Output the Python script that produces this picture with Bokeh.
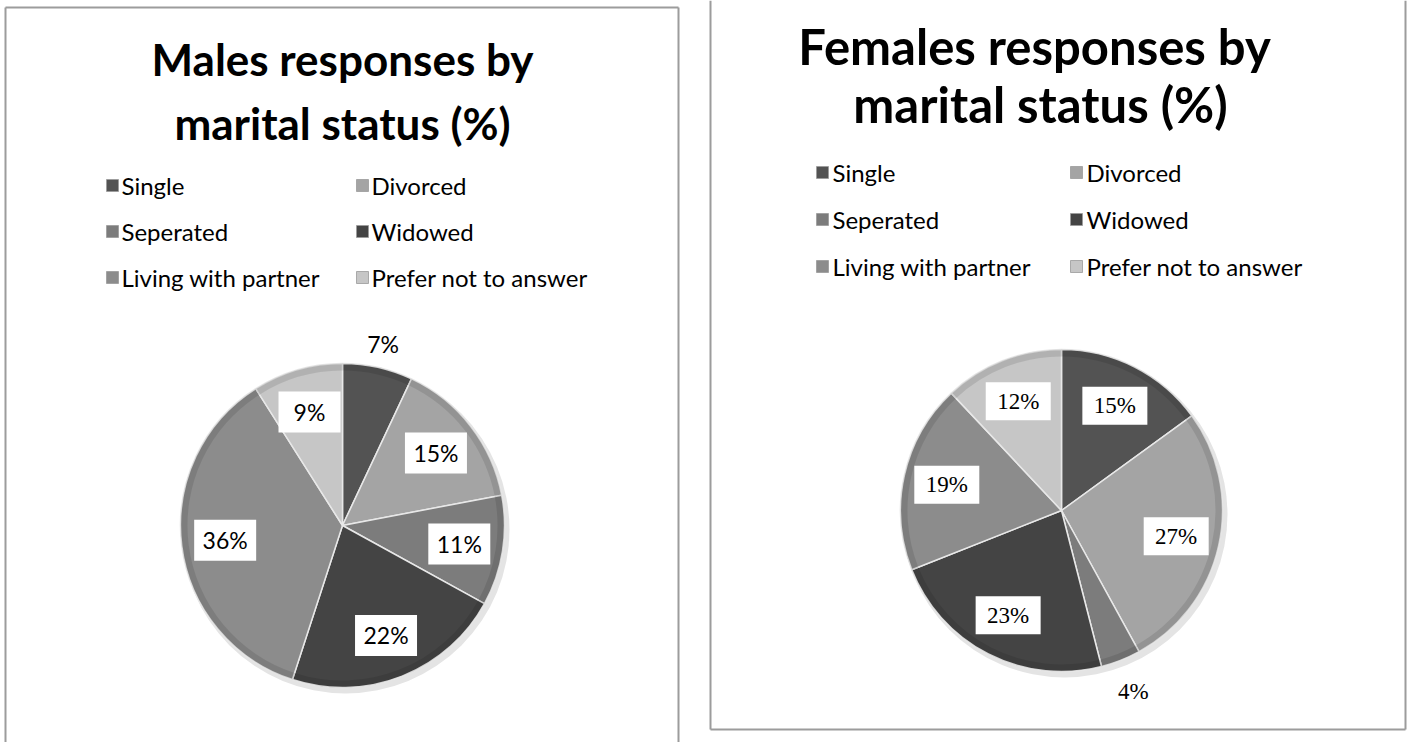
import math
from bokeh.plotting import figure
from bokeh.models import Range1d, ColumnDataSource
from bokeh.core.properties import value
from bokeh.embed import file_html
from bokeh.resources import INLINE

# ---------------- data ----------------
categories = ["Single", "Divorced", "Seperated", "Widowed",
              "Living with partner", "Prefer not to answer"]
male_pct = [7, 15, 11, 22, 36, 9]
female_pct = [15, 27, 4, 23, 19, 12]
male_title = ["Males responses by", "marital status (%)"]
female_title = ["Females  responses by", "marital status (%)"]

# ---------------- styles ----------------
colors = ["#535353", "#a4a4a4", "#7c7c7c", "#444444", "#8c8c8c", "#c6c6c6"]
W, H = 1409, 742


def X(px):
    return px


def Y(py):
    return H - py


p = figure(width=W, height=H, x_range=Range1d(0, W), y_range=Range1d(0, H),
           output_backend="svg", toolbar_location=None, min_border=0)
p.axis.visible = False
p.grid.visible = False
p.outline_line_color = None
p.background_fill_color = "white"
p.border_fill_color = "white"

# panel borders (decoration)
border_col = "#9c9c9c"
p.segment(x0=[X(5), X(5), X(678), X(710), X(710), X(1405)],
          y0=[Y(7), Y(7), Y(7), Y(0), Y(729), Y(0)],
          x1=[X(678), X(5), X(678), X(710), X(1405), X(1405)],
          y1=[Y(7), Y(742), Y(742), Y(729), Y(729), Y(729)],
          line_color=border_col, line_width=2)


def panel(vals, title, cx, cy, r, title_x, title_y, title_gap, title_size,
          leg_rows, leg_cols, leg_text_dx, label_font, label_in, label_out,
          box_w, box_h):
    # title
    p.text(x=[X(title_x)] * 2, y=[Y(title_y), Y(title_y + title_gap)], text=title,
           text_font=value("Lato"), text_font_style="bold",
           text_font_size=title_size,
           text_align="center", text_baseline="middle", text_color="black")
    # legend
    lx, ly, lt = [], [], []
    for i, c in enumerate(categories):
        row, col = i // 2, i % 2
        lx.append(leg_cols[col])
        ly.append(leg_rows[row])
        lt.append(c)
    p.rect(x=[X(v) for v in lx], y=[Y(v) for v in ly], width=12, height=12,
           fill_color=colors, line_color="#9a9a9a", line_width=0.8)
    p.text(x=[X(v + leg_text_dx) for v in lx], y=[Y(v) for v in ly], text=lt,
           text_font=value("Lato"), text_font_size="24px",
           text_align="left", text_baseline="middle", text_color="black")
    # pie
    total = float(sum(vals))
    starts, ends, mids = [], [], []
    acc = 0.0
    for v in vals:
        a0 = acc / total * 2 * math.pi
        acc += v
        a1 = acc / total * 2 * math.pi
        starts.append(math.pi / 2 - a1)
        ends.append(math.pi / 2 - a0)
        mids.append((a0 + a1) / 2)
    src = ColumnDataSource(dict(start=starts, end=ends, color=colors))
    # soft shadow
    p.circle(x=[X(cx + 3)], y=[Y(cy + 4)], radius=r + 2, fill_color="#e4e4e4",
             line_color=None)
    p.wedge(x=X(cx), y=Y(cy), radius=r, start_angle="start", end_angle="end",
            fill_color="color", line_color="#e8e8e8", line_width=1.5, source=src)
    # darker rim for bevel feel
    p.annular_wedge(x=X(cx), y=Y(cy), inner_radius=r - 7, outer_radius=r,
                    start_angle="start", end_angle="end", fill_color="black",
                    fill_alpha=0.10, line_color=None, source=src)
    # labels
    bx, by, tx, ty, tt = [], [], [], [], []
    for v, m in zip(vals, mids):
        inside = v >= 8
        rr = r * (label_in if inside else label_out)
        px = cx + rr * math.sin(m)
        py = cy - rr * math.cos(m)
        if inside:
            bx.append(X(px))
            by.append(Y(py))
        tx.append(X(px))
        ty.append(Y(py))
        tt.append(f"{v}%")
    p.rect(x=bx, y=by, width=box_w, height=box_h, fill_color="white",
           line_color=None)
    p.text(x=tx, y=ty, text=tt, text_font=value(label_font), text_font_size="23px",
           text_align="center", text_baseline="middle", text_color="black")


panel(male_pct, male_title, cx=342, cy=525, r=162, title_x=342, title_y=58,
      title_gap=64, title_size="44px", leg_rows=[185, 231, 277],
      leg_cols=[112, 362], leg_text_dx=9,
      label_font="Lato", label_in=0.73, label_out=1.15, box_w=62, box_h=41)
panel(female_pct, female_title, cx=1061, cy=510, r=161, title_x=1040, title_y=45,
      title_gap=58, title_size="49px", leg_rows=[172, 219, 266],
      leg_cols=[822, 1076], leg_text_dx=10,
      label_font="Liberation Serif", label_in=0.73, label_out=1.21,
      box_w=65, box_h=38)

open("out.html", "w").write(file_html(p, INLINE))
